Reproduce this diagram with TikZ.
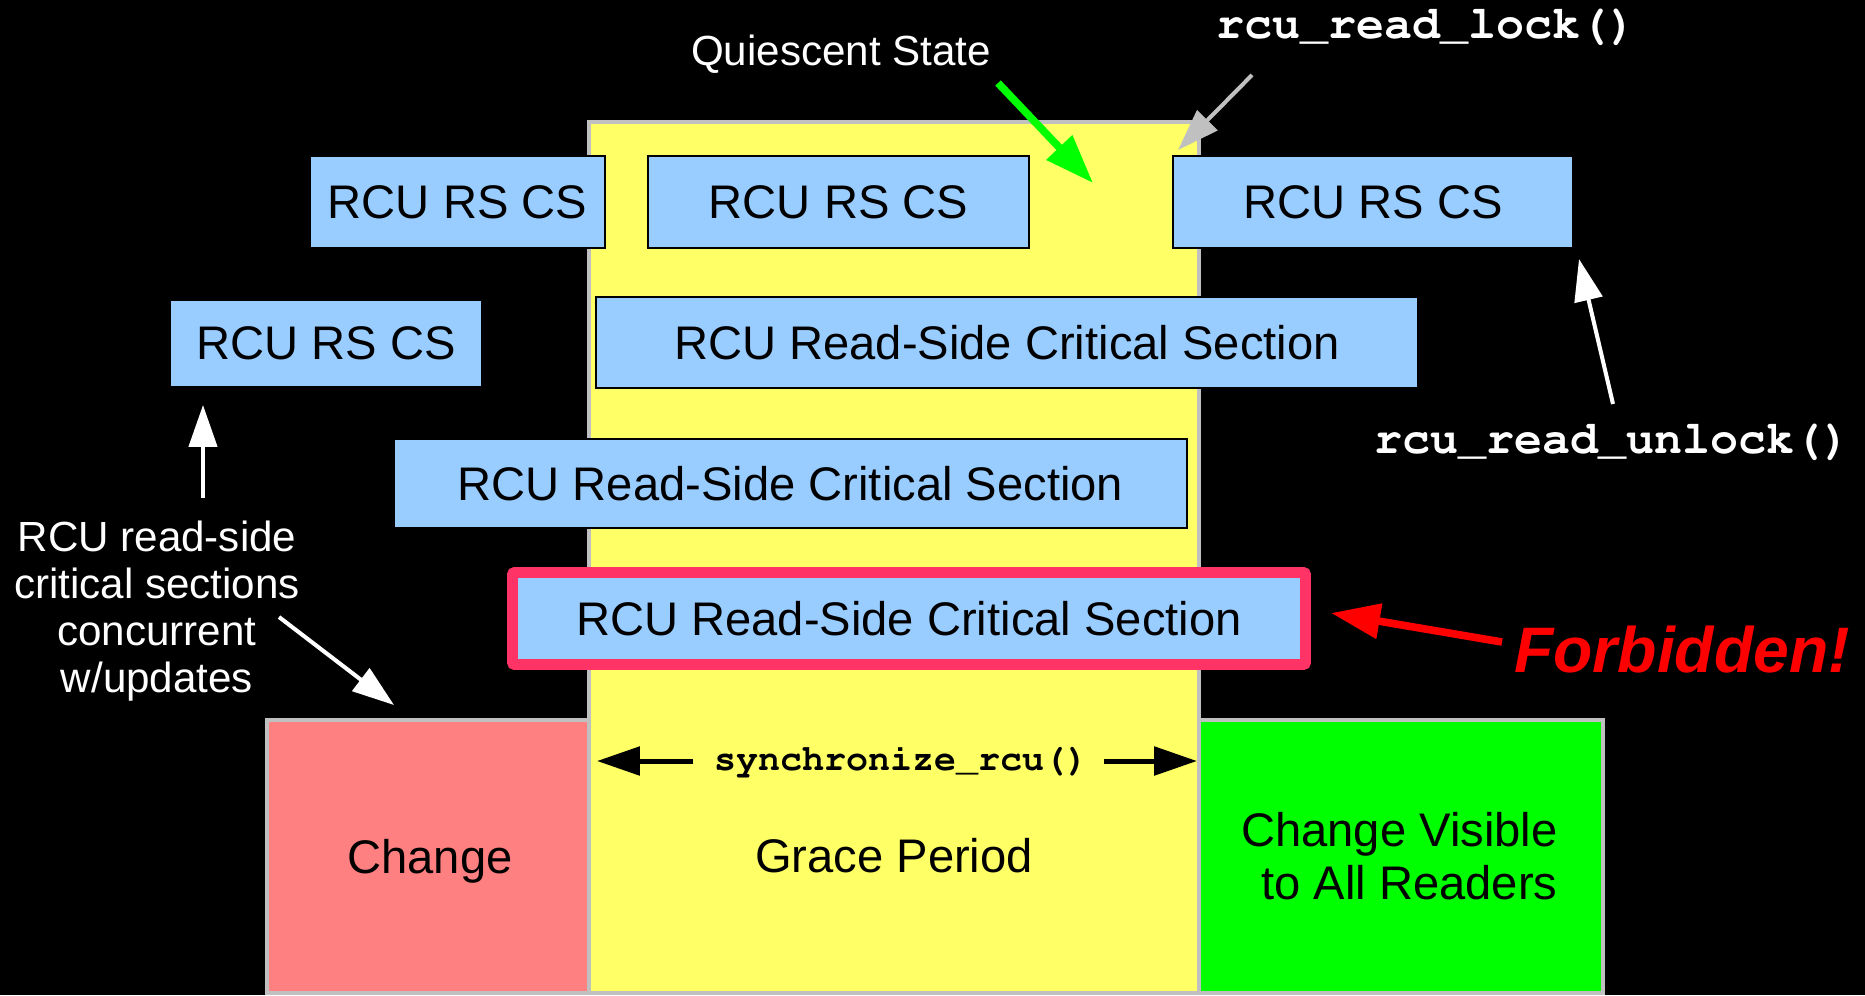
\documentclass[tikz,border=0pt]{standalone}
\usepackage{fontspec}
\setmainfont{Liberation Sans}
\setmonofont{Liberation Mono}
\usetikzlibrary{arrows.meta,fit}

\definecolor{rsblue}{HTML}{99CCFF}
\definecolor{gpyellow}{HTML}{FFFF66}
\definecolor{chgsalmon}{HTML}{FF8080}
\definecolor{visgreen}{HTML}{00FF00}
\definecolor{edgegray}{HTML}{C0C0C0}
\definecolor{forbidpink}{HTML}{FF3366}
\definecolor{forbidred}{HTML}{FF0000}

% bold Courier for kernel API names
\newcommand{\apifont}{\fontencoding{T1}\fontfamily{pcr}\fontseries{b}\selectfont}

\begin{document}
\begin{tikzpicture}[x=0.42pt,y=-0.42pt,
  phase/.style={draw=edgegray, line width=1.3pt, inner sep=0pt, outer sep=0pt},
  rsbox/.style={fill=rsblue, draw=black, line width=1.1pt, inner sep=0pt, outer sep=0pt},
  badbox/.style={rsbox, draw=forbidpink, line width=4.6pt, rounded corners=1pt},
  boxtext/.style={inner sep=0pt, font=\fontsize{19.8}{22}\selectfont},
  phasetext/.style={inner sep=0pt, anchor=base, font=\fontsize{19.8}{22.3}\selectfont},
  note/.style={inner sep=0pt, text=white, font=\fontsize{17.7}{19.7}\selectfont},
  apicall/.style={inner sep=0pt, anchor=base, text=white,
    font=\fontsize{19.6}{22}\apifont},
  thinptr/.style={-{Triangle[length=17.6pt,width=11.8pt]}, line width=1.7pt},
  boldptr/.style={-{Triangle[length=20.6pt,width=14.3pt]}, line width=3.2pt},
  syncptr/.style={-{Triangle[length=18pt,width=11.8pt]}, line width=2.1pt, draw=black, fill=black},
]
% canvas
\fill[black] (0,0) rectangle (1865,995);
\useasboundingbox (0,0) rectangle (1865,995);

% update phases along the bottom
\node[phase, fill=gpyellow, fit={(589,122)(1199,993)}] (grace) {};
\node[phase, fill=chgsalmon, fit={(267,720)(589,993)}] (change) {};
\node[phase, fill=visgreen, fit={(1199,720)(1603,993)}] (visible) {};

% read-side critical sections
\node[rsbox, fit={(310,156)(605,248)}] (csA) {};
\node[rsbox, fit={(648,156)(1029,248)}] (csB) {};
\node[rsbox, fit={(1173,156)(1573,248)}] (csC) {};
\node[rsbox, fit={(170,300)(482,387)}] (csD) {};
\node[rsbox, fit={(596,297)(1418,388)}] (csE) {};
\node[rsbox, fit={(394,439)(1187,528)}] (csF) {};
\node[badbox, fit={(512.5,572.5)(1305.5,664.5)}] (csG) {};

\node[boxtext] (csAtxt) at (csA.center) {RCU RS CS};
\node[boxtext] (csBtxt) at (csB.center) {RCU RS CS};
\node[boxtext] (csCtxt) at (csC.center) {RCU RS CS};
\node[boxtext] (csDtxt) at (csD.center) {RCU RS CS};
\node[boxtext] (csEtxt) at (csE.center) {RCU Read-Side Critical Section};
\node[boxtext] (csFtxt) at (csF.center) {RCU Read-Side Critical Section};
\node[boxtext] (csGtxt) at (csG.center) {RCU Read-Side Critical Section};

% phase labels
\node[phasetext] (changetxt) at (430,873) {Change};
\node[phasetext] (gracetxt) at (894,872) {Grace Period};
\node[inner sep=0pt, anchor=east, align=right, font=\fontsize{19.8}{22.3}\selectfont]
  (visibletxt) at (1558,856) {Change Visible\\to All Readers};

% synchronize_rcu() spanning the grace period
\node[apicall, text=black, font=\fontsize{15.4}{18}\apifont]
  (sync) at (901,770) {synchronize\_rcu()};
\coordinate (syncL) at (693,761);
\coordinate (syncLtip) at (597,761);
\coordinate (syncR) at (1104,761);
\coordinate (syncRtip) at (1197,761);
\draw[syncptr] (syncL) -- (syncLtip);
\draw[syncptr] (syncR) -- (syncRtip);

% annotations
\node[note, anchor=base] (qs) at (841,65) {Quiescent State};
\node[apicall] (lock) at (1426,38) {rcu\_read\_lock()};
\node[apicall] (unlock) at (1612,453) {rcu\_read\_unlock()};
\node[note, align=center] (concur) at (157,611)
  {RCU read-side\\critical sections\\concurrent\\w/updates};
\node[inner sep=0pt, anchor=base, text=forbidred,
  font=\fontsize{27}{30}\selectfont\bfseries\itshape] (forbid) at (1682,672) {Forbidden!};

% pointers
\coordinate (qsTail) at (998,83);
\coordinate (qsTip) at (1093,183);
\draw[boldptr, draw=visgreen, fill=visgreen] (qsTail) -- (qsTip);

\coordinate (lockTail) at (1252,75);
\coordinate (lockTip) at (1178,150);
\draw[thinptr, draw=edgegray, fill=edgegray] (lockTail) -- (lockTip);

\coordinate (unlockTail) at (1613,404);
\coordinate (unlockTip) at (1579,259);
\draw[thinptr, draw=white, fill=white] (unlockTail) -- (unlockTip);

\coordinate (concurUp) at (203,498);
\coordinate (concurUpTip) at (203,405);
\draw[thinptr, draw=white, fill=white] (concurUp) -- (concurUpTip);

\coordinate (concurDown) at (279,617);
\coordinate (concurDownTip) at (394,705);
\draw[thinptr, draw=white, fill=white] (concurDown) -- (concurDownTip);

\coordinate (forbidTail) at (1502,642);
\coordinate (forbidTip) at (1331,613);
\draw[boldptr, draw=forbidred, fill=forbidred] (forbidTail) -- (forbidTip);
\end{tikzpicture}
\end{document}
